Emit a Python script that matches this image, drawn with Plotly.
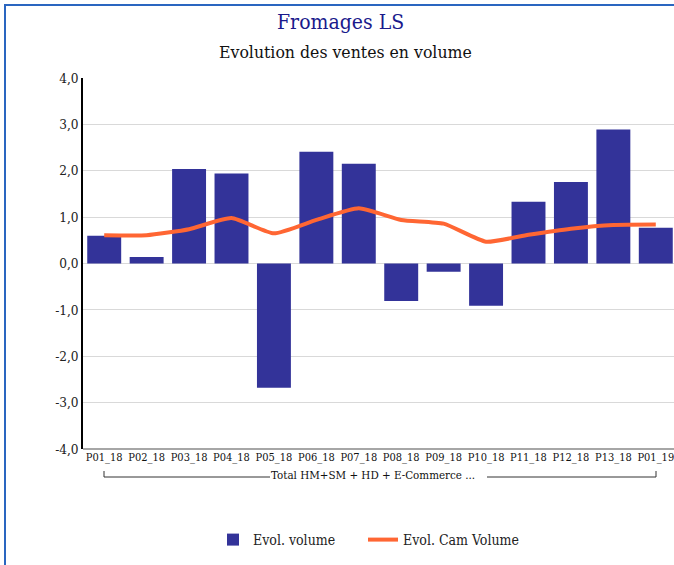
import plotly.graph_objects as go

categories = ["P01_18", "P02_18", "P03_18", "P04_18", "P05_18", "P06_18", "P07_18",
              "P08_18", "P09_18", "P10_18", "P11_18", "P12_18", "P13_18", "P01_19"]
evol_volume = [0.60, 0.14, 2.04, 1.94, -2.68, 2.41, 2.15, -0.81, -0.18, -0.91, 1.33, 1.76, 2.89, 0.77]
evol_cam_volume = [0.61, 0.61, 0.74, 0.98, 0.65, 0.94, 1.19, 0.94, 0.86, 0.47, 0.62, 0.75, 0.83, 0.84]
y_ticks = [-4, -3, -2, -1, 0, 1, 2, 3, 4]
group_label = "Total HM+SM + HD + E-Commerce ..."

FONT = "DejaVu Serif Condensed, DejaVu Serif, serif"

y_ticktext = [f"{v:.1f}".replace(".", ",") for v in y_ticks]

fig = go.Figure()
fig.add_trace(go.Bar(x=categories, y=evol_volume, name="Evol. volume",
                     marker=dict(color="#333399", line=dict(width=0)), legend="legend"))
fig.add_trace(go.Scatter(x=categories, y=evol_cam_volume, name="Evol. Cam Volume",
                         mode="lines", line=dict(color="#FF6633", width=4, shape="spline", smoothing=0.5),
                         legend="legend2"))

W, H = 677, 565
L, R, T, B = 83, 0, 78, 116
pw, ph = W - L - R, H - T - B

def px(x):
    return (x - L) / pw

def py(y):
    return (H - B - y) / ph

legend_common = dict(orientation="h", yanchor="middle", xanchor="left",
                     font=dict(size=14, color="#222222"), bgcolor="rgba(0,0,0,0)")

fig.update_layout(
    width=W, height=H,
    margin=dict(l=L, r=R, t=T, b=B, autoexpand=False),
    paper_bgcolor="white", plot_bgcolor="white",
    bargap=0.2,
    font=dict(family=FONT, color="#222222"),
    showlegend=True,
    legend=dict(x=px(213), y=py(540), **legend_common),
    legend2=dict(x=px(363), y=py(540), **legend_common),
    xaxis=dict(type="category", showgrid=False, showline=False, ticks="", automargin=False,
               tickfont=dict(size=11, color="#111111"), tickangle=0),
    yaxis=dict(range=[-4, 4], tickvals=y_ticks, ticktext=y_ticktext, automargin=False,
               showgrid=True, gridcolor="#d9d9d9", gridwidth=1,
               zeroline=False, showline=True, linecolor="#000000", linewidth=1.5,
               ticks="", tickfont=dict(size=13.5, color="#222222")),
    annotations=[
        dict(text="Fromages LS", xref="paper", yref="paper", x=px(340), y=py(22),
             xanchor="center", yanchor="middle", showarrow=False,
             font=dict(size=21, color="#1a1a8c", family=FONT)),
        dict(text="Evolution des ventes en volume", xref="paper", yref="paper", x=px(345), y=py(52),
             xanchor="center", yanchor="middle", showarrow=False,
             font=dict(size=17.5, color="#111111", family=FONT)),
        dict(text=group_label, xref="paper", yref="paper", x=px(373), y=py(475),
             xanchor="center", yanchor="middle", showarrow=False,
             font=dict(size=11.5, color="#111111", family=FONT)),
    ],
    shapes=[
        dict(type="line", xref="paper", yref="paper", x0=0, x1=1, y0=0, y1=0,
             line=dict(color="#888888", width=1.5)),
        dict(type="line", xref="paper", yref="paper", x0=px(104), x1=px(270), y0=py(477), y1=py(477),
             line=dict(color="#333333", width=1)),
        dict(type="line", xref="paper", yref="paper", x0=px(487), x1=px(656), y0=py(477), y1=py(477),
             line=dict(color="#333333", width=1)),
        dict(type="line", xref="paper", yref="paper", x0=px(104), x1=px(104), y0=py(477), y1=py(471),
             line=dict(color="#333333", width=1)),
        dict(type="line", xref="paper", yref="paper", x0=px(656), x1=px(656), y0=py(477), y1=py(471),
             line=dict(color="#333333", width=1)),
        dict(type="rect", xref="paper", yref="paper", x0=px(5), x1=px(800), y0=py(5), y1=py(800),
             line=dict(color="#2a66c0", width=2), fillcolor="rgba(0,0,0,0)"),
    ],
)

fig.write_html("out.html", config={"displayModeBar": False},
               post_script="document.body.style.margin='0';document.body.style.overflow='hidden';")
